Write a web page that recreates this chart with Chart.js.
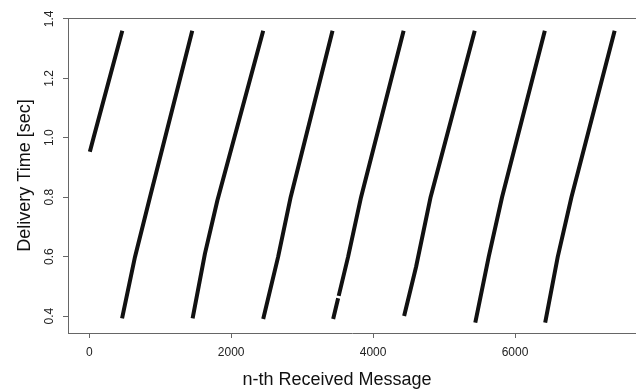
<!DOCTYPE html>
<html>
<head>
<meta charset="utf-8">
<script src="https://cdn.jsdelivr.net/npm/chart.js@4/dist/chart.umd.min.js"></script>
<style>
  html, body { margin: 0; padding: 0; background: #fff; }
  #wrap { width: 636px; height: 392px; }
</style>
</head>
<body>
<div id="wrap"><canvas id="myChart" width="636" height="392"></canvas></div>
<script>
// values, one pair of arrays per sawtooth run
const seg1X = [8, 60, 465];
const seg1Y = [0.953, 1.0, 1.36];
const seg2X = [462, 644, 855, 1451];
const seg2Y = [0.392, 0.599, 0.8, 1.36];
const seg3X = [1456, 1630, 1805, 2451];
const seg3Y = [0.392, 0.61, 0.789, 1.36];
const seg4X = [2451, 2662, 2838, 3428];
const seg4Y = [0.39, 0.6, 0.8, 1.36];
const seg5X = [3437, 3507, 3510, 3515, 3648, 3830, 4430];
const seg5Y = [0.39, 0.46, null, 0.468, 0.6, 0.8, 1.36];
const seg6X = [4437, 4605, 4810, 5432];
const seg6Y = [0.4, 0.565, 0.8, 1.36];
const seg7X = [5440, 5629, 5817, 6420];
const seg7Y = [0.378, 0.599, 0.8, 1.36];
const seg8X = [6425, 6602, 6795, 7404];
const seg8Y = [0.378, 0.599, 0.8, 1.36];

const xTicks = [0, 2000, 4000, 6000];
const yTicks = [0.4, 0.6, 0.8, 1.0, 1.2, 1.4];

const xTitle = 'n-th Received Message';
const yTitle = 'Delivery Time [sec]';

const segments = [
  [seg1X, seg1Y], [seg2X, seg2Y], [seg3X, seg3Y], [seg4X, seg4Y],
  [seg5X, seg5Y], [seg6X, seg6Y], [seg7X, seg7Y], [seg8X, seg8Y]
];

const FONT = "'Liberation Sans', Arial, Helvetica, sans-serif";
const AXIS = '#666';

const datasets = segments.map(([xs, ys]) => ({
  data: xs.map((x, i) => ({ x: x, y: ys[i] })),
  showLine: true,
  spanGaps: false,
  borderColor: '#111',
  borderWidth: 4,
  borderCapStyle: 'butt',
  borderJoinStyle: 'round',
  pointRadius: 0,
  tension: 0
}));

// top edge of the box and the x title (R draws it centred a bit left)
const framePlugin = {
  id: 'frame',
  afterDraw(chart) {
    const { ctx, chartArea } = chart;
    ctx.save();
    ctx.strokeStyle = AXIS;
    ctx.lineWidth = 1;
    ctx.beginPath();
    ctx.moveTo(chartArea.left, Math.round(chartArea.top) + 0.5);
    ctx.lineTo(chartArea.right, Math.round(chartArea.top) + 0.5);
    ctx.stroke();

    ctx.fillStyle = '#111';
    ctx.font = '18px ' + FONT;
    ctx.textAlign = 'center';
    ctx.textBaseline = 'alphabetic';
    ctx.fillText(xTitle, chartArea.left + 269, 385);
    ctx.restore();
  }
};

const ctx = document.getElementById('myChart').getContext('2d');
const myChart = new Chart(ctx, {
  type: 'scatter',
  data: { datasets: datasets },
  plugins: [framePlugin],
  options: {
    responsive: false,
    animation: false,
    layout: { padding: { top: 18, right: 0, bottom: 0, left: 0 } },
    plugins: {
      legend: { display: false },
      tooltip: { enabled: false }
    },
    scales: {
      x: {
        type: 'linear',
        min: -300,
        max: 7705,
        afterFit: scale => { scale.height = 59; },
        afterBuildTicks: scale => { scale.ticks = xTicks.map(v => ({ value: v })); },
        ticks: {
          font: { family: FONT, size: 12 },
          color: '#222',
          padding: 7,
          maxRotation: 0,
          callback: v => String(v)
        },
        grid: { drawOnChartArea: false, drawTicks: true, tickLength: 5, color: AXIS },
        border: { display: true, color: AXIS, width: 1 }
      },
      y: {
        type: 'linear',
        min: 0.343,
        max: 1.403,
        afterFit: scale => { scale.width = 68; },
        afterBuildTicks: scale => { scale.ticks = yTicks.map(v => ({ value: v })); },
        ticks: {
          font: { family: FONT, size: 12 },
          color: '#222',
          padding: 4.5,
          minRotation: 90,
          maxRotation: 90,
          crossAlign: 'center',
          callback: v => Number(v).toFixed(1)
        },
        grid: { drawOnChartArea: false, drawTicks: true, tickLength: 5, color: AXIS },
        border: { display: true, color: AXIS, width: 1 },
        title: {
          display: true,
          text: yTitle,
          color: '#111',
          font: { family: FONT, size: 18 },
          padding: { top: 14, bottom: 0 }
        }
      }
    }
  }
});
</script>
</body>
</html>
